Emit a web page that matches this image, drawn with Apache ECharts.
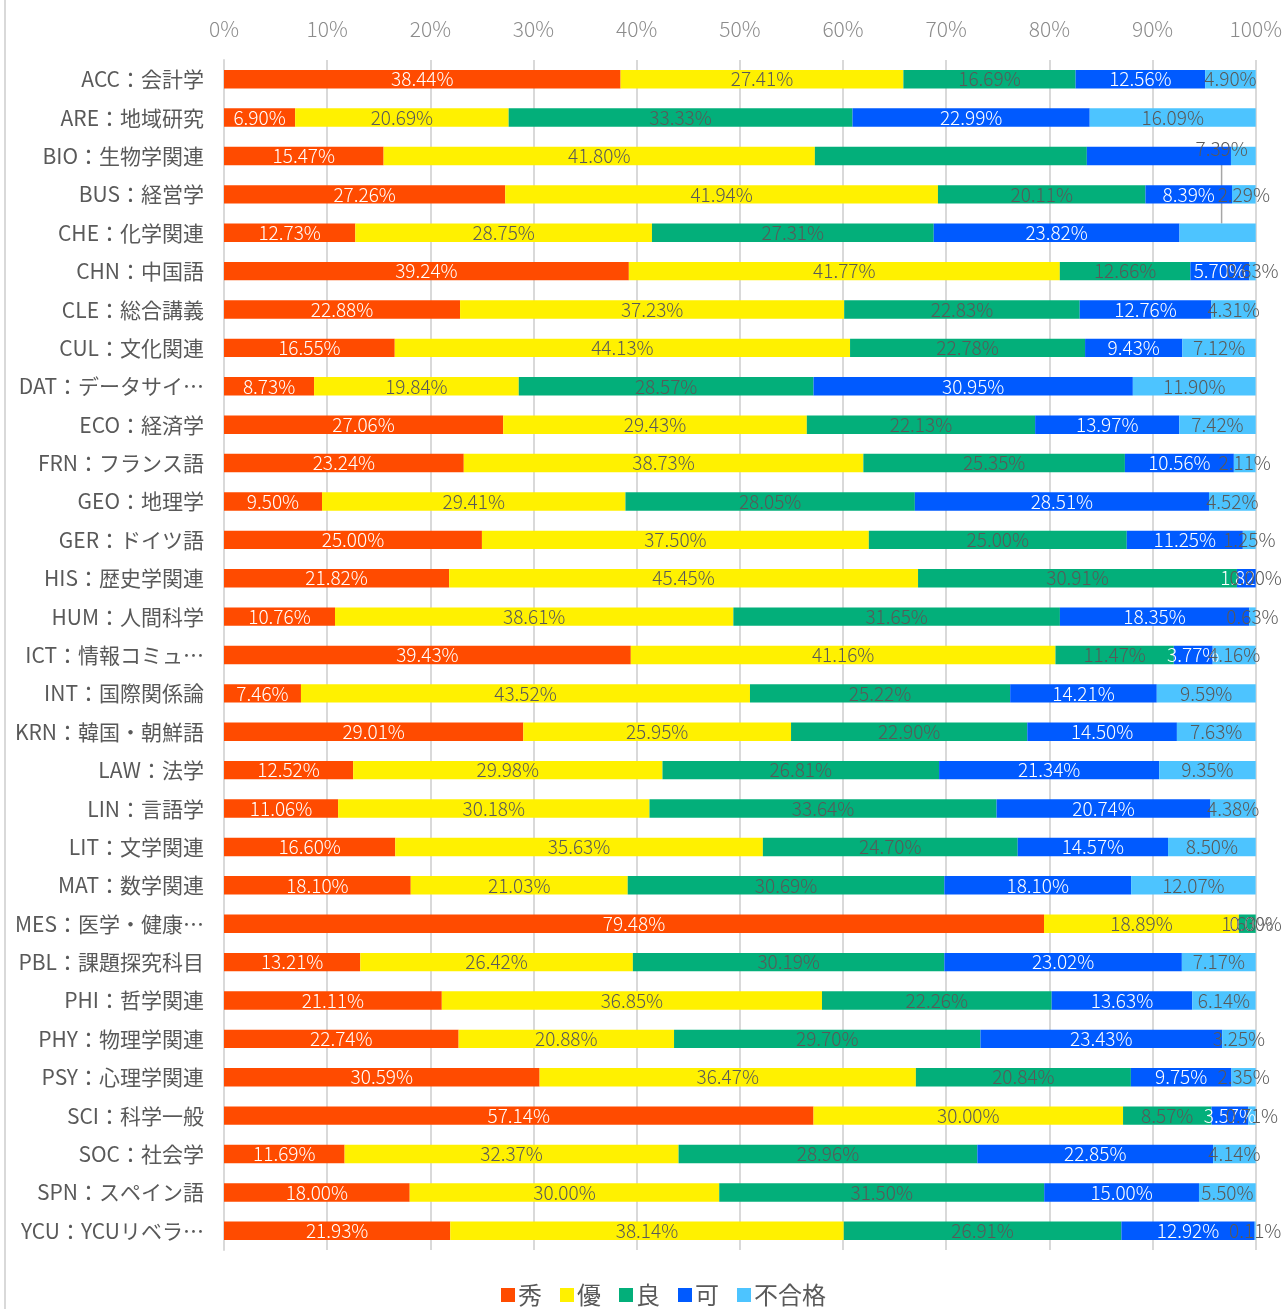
<!DOCTYPE html>
<html>
<head>
<meta charset="utf-8">
<script src="https://cdn.jsdelivr.net/npm/echarts@6/dist/echarts.min.js"></script>
<style>
html,body{margin:0;padding:0;background:#fff;}
#chart{width:1285px;height:1309px;}
</style>
</head>
<body>
<div id="chart"></div>
<script>
const categories = [
  "ACC：会計学","ARE：地域研究","BIO：生物学関連","BUS：経営学","CHE：化学関連",
  "CHN：中国語","CLE：総合講義","CUL：文化関連","DAT：データサイ…","ECO：経済学",
  "FRN：フランス語","GEO：地理学","GER：ドイツ語","HIS：歴史学関連","HUM：人間科学",
  "ICT：情報コミュ…","INT：国際関係論","KRN：韓国・朝鮮語","LAW：法学","LIN：言語学",
  "LIT：文学関連","MAT：数学関連","MES：医学・健康…","PBL：課題探究科目","PHI：哲学関連",
  "PHY：物理学関連","PSY：心理学関連","SCI：科学一般","SOC：社会学","SPN：スペイン語",
  "YCU：YCUリベラ…"
];
const seriesNames = ["秀","優","良","可","不合格"];
const shu  = [38.44,6.90,15.47,27.26,12.73,39.24,22.88,16.55,8.73,27.06,23.24,9.50,25.00,21.82,10.76,39.43,7.46,29.01,12.52,11.06,16.60,18.10,79.48,13.21,21.11,22.74,30.59,57.14,11.69,18.00,21.93];
const yu   = [27.41,20.69,41.80,41.94,28.75,41.77,37.23,44.13,19.84,29.43,38.73,29.41,37.50,45.45,38.61,41.16,43.52,25.95,29.98,30.18,35.63,21.03,18.89,26.42,36.85,20.88,36.47,30.00,32.37,30.00,38.14];
const ryo  = [16.69,33.33,26.36,20.11,27.31,12.66,22.83,22.78,28.57,22.13,25.35,28.05,25.00,30.91,31.65,11.47,25.22,22.90,26.81,33.64,24.70,30.69,1.63,30.19,22.26,29.70,20.84,8.57,28.96,31.50,26.91];
const ka   = [12.56,22.99,13.97,8.39,23.82,5.70,12.76,9.43,30.95,13.97,10.56,28.51,11.25,1.82,18.35,3.77,14.21,14.50,21.34,20.74,14.57,18.10,0.00,23.02,13.63,23.43,9.75,3.57,22.85,15.00,12.92];
const fuka = [4.90,16.09,2.40,2.29,7.39,0.63,4.31,7.12,11.90,7.42,2.11,4.52,1.25,0.00,0.63,4.16,9.59,7.63,9.35,4.38,8.50,12.07,0.00,7.17,6.14,3.25,2.35,0.71,4.14,5.50,0.11];
const xTicks = [0,10,20,30,40,50,60,70,80,90,100];

const colors = ["#FF4B00","#FFF100","#03AF7A","#005AFF","#4DC4FF"];
const labelColors = ["#ffffff","#595959","#595959","#ffffff","#595959"];
const hiddenLabels = {2:[2],3:[2],4:[2]}; // seriesIndex -> data indices without labels (BIO)
const FONT = '"Noto Sans CJK JP","Noto Sans",sans-serif';

const allData = [shu, yu, ryo, ka, fuka];
const series = allData.map((arr, si) => ({
  name: seriesNames[si],
  type: 'bar',
  stack: 'total',
  barWidth: '48%',
  itemStyle: {color: colors[si]},
  label: {
    show: true,
    position: 'inside',
    color: labelColors[si],
    fontSize: 19,
    fontWeight: 300,
    fontFamily: FONT,
    formatter: p => p.value.toFixed(2) + '%'
  },
  data: arr.map((v, i) => {
    if (hiddenLabels[si] && hiddenLabels[si].indexOf(i) >= 0) {
      return {value: v, label: {show: false}};
    }
    if (si === 4 && i === 4) {
      return {value: v, labelLine: {show: true, lineStyle: {color: '#a6a6a6', width: 1.5}}};
    }
    return v;
  }),
  labelLayout: si === 4 ? function (params) {
    if (params.dataIndex === 4) return {dy: -84, dx: 4};
    return {};
  } : undefined
}));

const chart = echarts.init(document.getElementById('chart'));
chart.setOption({
  animation: false,
  backgroundColor: '#ffffff',
  color: colors,
  grid: {left: 224, right: 29, top: 60, bottom: 59, containLabel: false},
  xAxis: {
    type: 'value',
    position: 'top',
    min: 0, max: 100, interval: 10,
    axisLine: {show: false},
    axisTick: {show: false},
    splitLine: {show: true, lineStyle: {color: '#d9d9d9', width: 2}},
    axisLabel: {
      color: '#8c8c8c', fontSize: 21, fontWeight: 300, fontFamily: FONT, margin: 20,
      showMaxLabel: true, showMinLabel: true,
      formatter: v => (xTicks.indexOf(v) >= 0 ? v + '%' : '')
    }
  },
  yAxis: {
    type: 'category',
    inverse: true,
    data: categories,
    axisLine: {show: true, lineStyle: {color: '#d9d9d9', width: 2}},
    axisTick: {show: false},
    axisLabel: {color: '#595959', fontSize: 21, fontFamily: FONT, margin: 20, interval: 0}
  },
  legend: {
    bottom: -3,
    left: 496,
    icon: 'rect',
    itemWidth: 14,
    itemHeight: 14,
    itemGap: 18,
    textStyle: {color: '#595959', fontSize: 24, fontFamily: FONT, padding: [0, 0, 0, -2]},
    data: seriesNames
  },
  graphic: [{
    type: 'line',
    shape: {x1: 5, y1: 0, x2: 5, y2: 1309},
    style: {stroke: '#d9d9d9', lineWidth: 2}
  }],
  series: series
});
</script>
</body>
</html>
